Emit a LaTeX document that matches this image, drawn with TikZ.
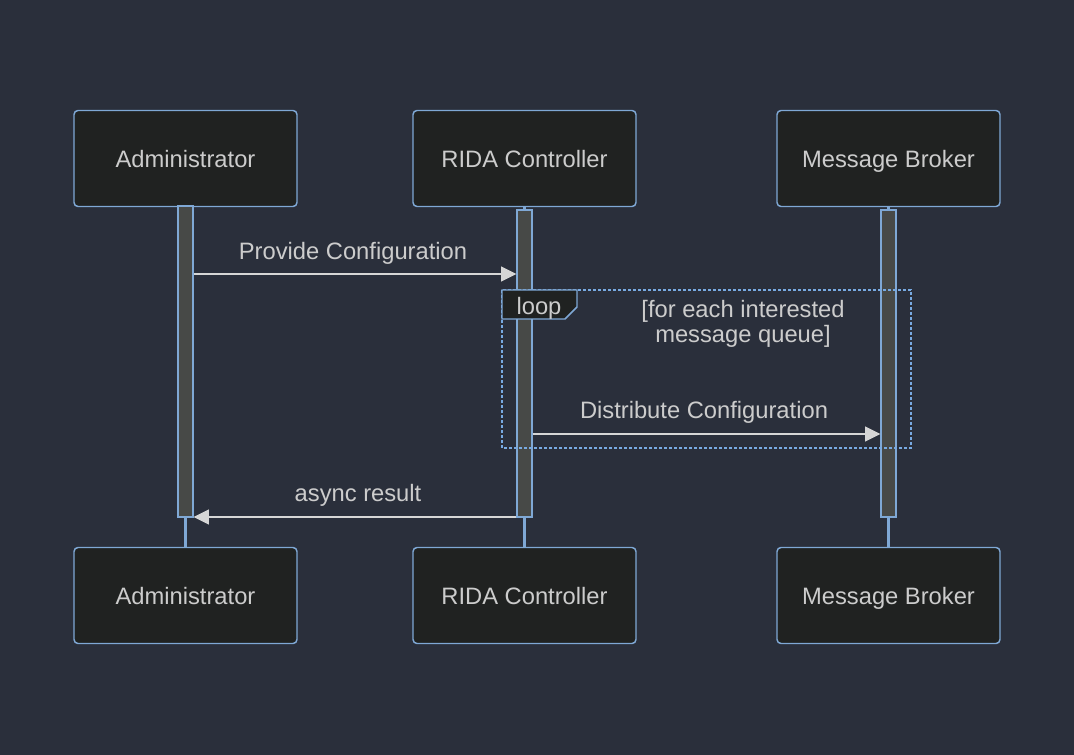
\documentclass[tikz,border=0pt]{standalone}
\usepackage{fontspec}
\setmainfont{Liberation Sans}
\usetikzlibrary{arrows.meta,calc}
\definecolor{bg}{HTML}{2A2F3B}
\definecolor{boxfill}{HTML}{202221}
\definecolor{edge}{HTML}{7FA8D5}
\definecolor{dots}{HTML}{78AAE2}
\definecolor{txt}{HTML}{CCCCCC}
\definecolor{barfill}{HTML}{474947}
\definecolor{msgc}{HTML}{D6D6D6}
\begin{document}
\begin{tikzpicture}[x=0.75pt,y=-0.75pt,
  actor/.style={draw=edge,line width=1.1pt,fill=boxfill,rounded corners=3pt,
    minimum width=167.25pt,minimum height=72pt,inner sep=0pt,text=txt,
    text height=13.5pt,text depth=0.5pt,
    font=\fontsize{17.8}{21}\selectfont},
  actbar/.style={draw=edge,line width=0.9pt,fill=barfill,minimum width=11.25pt,inner sep=0pt},
  life/.style={draw=edge,line width=1.6pt},
  msg/.style={draw=msgc,line width=1.5pt,-{Triangle[length=11.5pt,width=11pt]}},
  lbl/.style={text=txt,font=\fontsize{17.8}{21}\selectfont,inner sep=0pt},
  onelbl/.style={lbl,text height=13.5pt,text depth=0.5pt},
  loopframe/.style={draw=dots,line width=2.1pt,dash pattern=on 1.9pt off 1.85pt}]
\useasboundingbox (0,0) rectangle (1074,755);
\fill[bg] (0,0) rectangle (1074,755);
% actors
\node[actor] (admtop) at (185.5,158.5) {Administrator};
\node[actor] (ridtop) at (524.5,158.5) {RIDA Controller};
\node[actor] (mbtop) at (888.5,158.5) {Message Broker};
\node[actor] (admbot) at (185.5,595.5) {Administrator};
\node[actor] (ridbot) at (524.5,595.5) {RIDA Controller};
\node[actor] (mbbot) at (888.5,595.5) {Message Broker};
% lifelines
\draw[life] (admtop.south) -- (admbot.north);
\draw[life] (ridtop.south) -- (ridbot.north);
\draw[life] (mbtop.south) -- (mbbot.north);
% activation bars
\node[actbar,minimum height=233.25pt] (admbar) at (185.5,361.5) {};
\node[actbar,minimum height=230.25pt] (ridbar) at (524.5,363.5) {};
\node[actbar,minimum height=230.25pt] (mbbar) at (888.5,363.5) {};
% loop frame
\coordinate (lpa) at (502,290);
\coordinate (lpb) at (911,448);
\draw[loopframe] (lpa) rectangle (lpb);
\draw[draw=edge,line width=1.1pt,fill=boxfill] (lpa) -- (577,290) -- (577,307) -- (565,319) -- (502,319) -- cycle;
\node[onelbl] (looplbl) at (539,305.5) {loop};
\node[lbl,align=center] (loopcond) at (743,324) {[for each interested\\[-2.2pt]message queue]};
% messages
\coordinate (m1) at (0,274);
\coordinate (m2) at (0,434);
\coordinate (m3) at (0,517);
\draw[msg] (admbar.east |- m1) -- (ridbar.west |- m1);
\node[onelbl] (l1) at (353,250.5) {Provide Configuration};
\draw[msg] (ridbar.east |- m2) -- (mbbar.west |- m2);
\node[onelbl] (l2) at (704,409.5) {Distribute Configuration};
\draw[msg] (ridbar.west |- m3) -- (admbar.east |- m3);
\node[onelbl] (l3) at (358,492.5) {async result};
\end{tikzpicture}
\end{document}
